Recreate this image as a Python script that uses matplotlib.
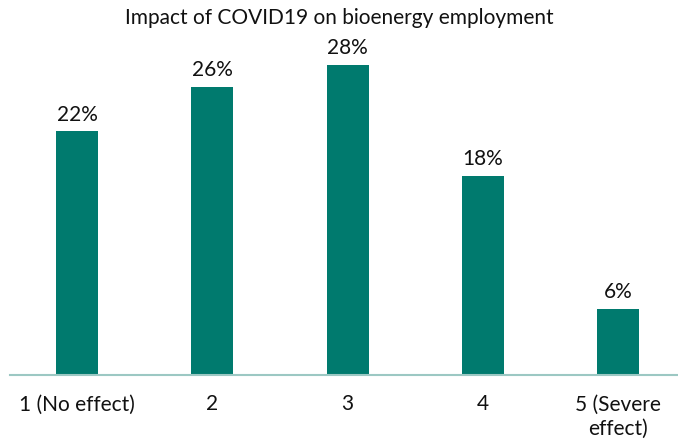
import matplotlib.pyplot as plt

categories = ["1 (No effect)", "2", "3", "4", "5 (Severe\neffect)"]
shares = [22, 26, 28, 18, 6]

bar_color = "#007A6E"
axis_color = "#9CC8C3"

plt.rcParams["font.family"] = ["Lato", "DejaVu Sans"]

fig = plt.figure(figsize=(6.78, 4.46), dpi=100)
# axes slightly wider than the figure so the baseline runs off the right edge
ax = fig.add_axes([9.5 / 678, 71 / 446, 676.25 / 678, 332.1 / 446])

x = list(range(len(categories)))
bars = ax.bar(x, shares, width=0.31, color=bar_color)

for xi, v in zip(x, shares):
    ax.annotate(
        f"{v}%",
        (xi, v),
        xytext=(0, 5),
        textcoords="offset points",
        ha="center",
        va="bottom",
        fontsize=15,
        color="#111111",
    )

ax.set_xlim(-0.5, 4.5)
ax.set_ylim(0, 30)
ax.set_yticks([])
ax.set_xticks(x)
ax.set_xticklabels(categories, fontsize=15, color="#111111", va="top", linespacing=1.25)
ax.tick_params(axis="x", length=0, pad=14)

for side in ["top", "right", "left"]:
    ax.spines[side].set_visible(False)
ax.spines["bottom"].set_color(axis_color)
ax.spines["bottom"].set_linewidth(1.5)

fig.text(0.5, 1 - 18 / 446, "Impact of COVID19 on bioenergy employment",
         ha="center", va="center", fontsize=15, color="#111111")

fig.savefig("out.png", dpi=100)
